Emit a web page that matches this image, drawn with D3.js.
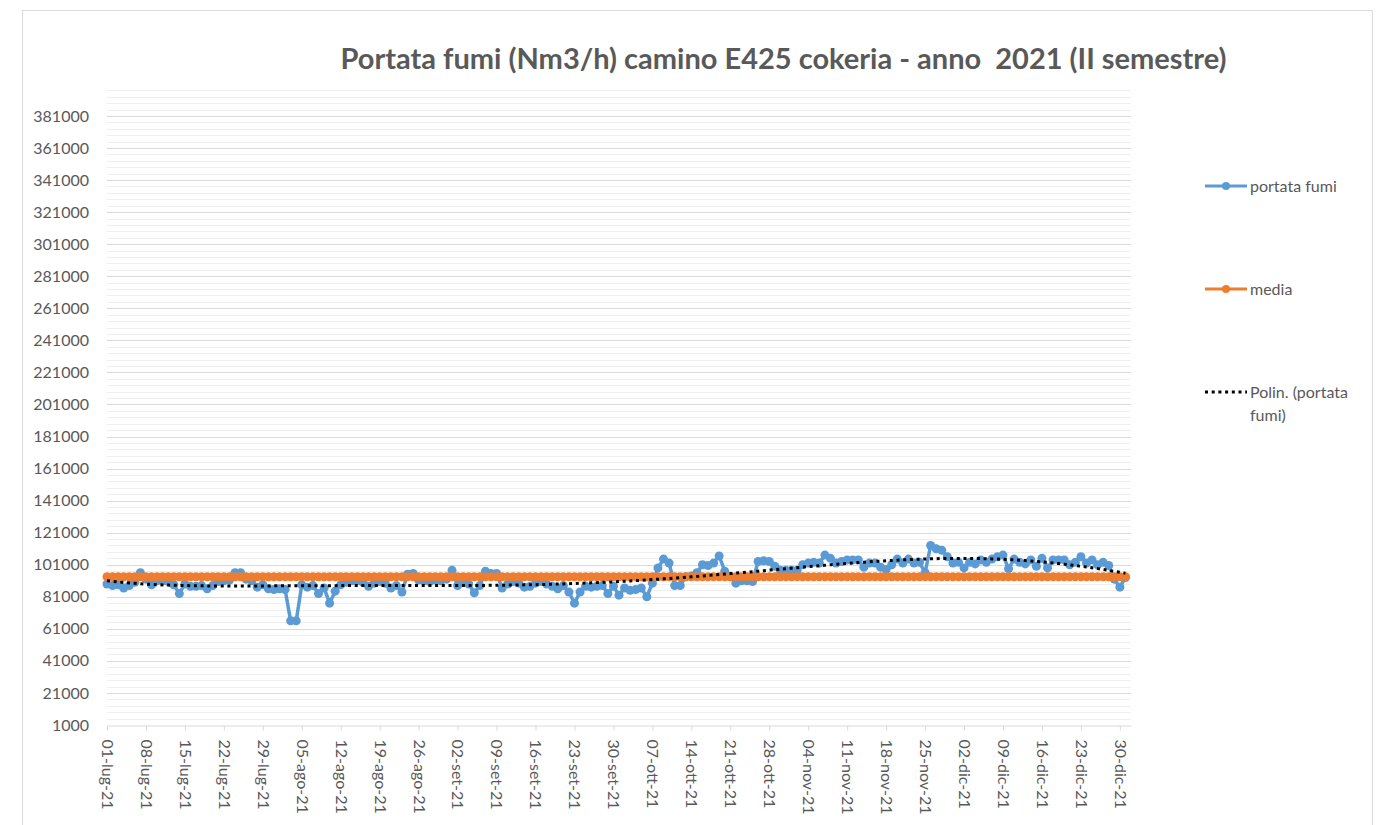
<!DOCTYPE html>
<html lang="it">
<head>
<meta charset="UTF-8">
<title>Portata fumi camino E425</title>
<style>
  body { margin: 0; background: #fff; }
  text { font-family: Lato, "Open Sans", sans-serif; fill: #595959; }
</style>
</head>
<body>
<script src="https://cdn.jsdelivr.net/npm/d3@7/dist/d3.min.js"></script>
<script>
// valori giornalieri (Nm3/h)
const luglio = [89000, 88000, 88500, 86500, 88000, 90000, 96000, 92000, 88500, 91000, 91000, 90500, 88500, 83000, 89000, 87500,
  87500, 88000, 86000, 88000, 90500, 91000, 91500, 96000, 96000, 92000, 91000, 87000, 88500, 86000, 85500];
const agosto = [86000, 85500, 66000, 66000, 88500, 87000, 88000, 83000, 86500, 77000, 84500, 88500, 90000, 91000, 91000, 90000,
  87500, 89500, 90500, 89500, 86500, 88000, 84000, 95000, 95500, 91500, 91000, 90500, 91500, 91000, 92000];
const settembre = [97500, 88000, 90000, 89000, 83500, 88000, 97000, 95500, 95500, 86500, 89000, 90500, 89500, 87000, 87500,
  89500, 90500, 89000, 87500, 86000, 88000, 84000, 77000, 84000, 87500, 87000, 87500, 88000, 83000, 87500];
const ottobre = [82000, 86500, 85000, 85500, 86500, 81000, 89500, 99000, 104500, 102000, 88000, 88000, 93500, 94000, 96000,
  101000, 100500, 102000, 106500, 97000, 93500, 89500, 91000, 91000, 90500, 103000, 103500, 103000, 100000, 97500, 97500];
const novembre = [97500, 97500, 101000, 102000, 102500, 102000, 107000, 105000, 102000, 103000, 104000, 104000, 104000, 99500,
  102000, 102000, 99500, 98000, 101000, 104500, 102000, 104500, 102000, 102500, 96000, 113000, 111000, 110000, 106000, 102000];
const dicembre = [102500, 99000, 102500, 101500, 104000, 102500, 104500, 106000, 107000, 98500, 104500, 102500, 101500, 104000,
  100000, 105000, 99000, 104000, 104000, 104000, 101000, 102500, 106000, 102000, 104000, 101000, 102500, 100500, 92000, 87000, 93000];

const mediaValue = 93500;   // linea "media"
const trendOrder = 6;       // ordine della linea di tendenza polinomiale

const portata = [].concat(luglio, agosto, settembre, ottobre, novembre, dicembre);
const dates = d3.utcDay.range(new Date(Date.UTC(2021, 6, 1)), new Date(Date.UTC(2022, 0, 1)));
const media = dates.map(() => mediaValue);

const yTicks = d3.range(1000, 381001, 20000);
const yMinor = d3.range(1000, 400000, 4000).filter(v => (v - 1000) % 20000 !== 0);
const xTicks = dates.filter((d, i) => i % 7 === 0);

const itLocale = d3.timeFormatLocale({
  dateTime: '%A %e %B %Y, %X', date: '%d/%m/%Y', time: '%H:%M:%S',
  periods: ['AM', 'PM'],
  days: ['domenica', 'lunedì', 'martedì', 'mercoledì', 'giovedì', 'venerdì', 'sabato'],
  shortDays: ['dom', 'lun', 'mar', 'mer', 'gio', 'ven', 'sab'],
  months: ['gennaio', 'febbraio', 'marzo', 'aprile', 'maggio', 'giugno', 'luglio', 'agosto', 'settembre', 'ottobre', 'novembre', 'dicembre'],
  shortMonths: ['gen', 'feb', 'mar', 'apr', 'mag', 'giu', 'lug', 'ago', 'set', 'ott', 'nov', 'dic']
});
const fmtDate = itLocale.utcFormat('%d-%b-%y');

const width = 1393, height = 825;
const plot = { left: 107, right: 1131, top: 85.5, bottom: 725 };

const svg = d3.select('body').append('svg')
  .attr('width', width)
  .attr('height', height);

// bordo del grafico
svg.append('rect')
  .attr('x', 22.5).attr('y', 10.5)
  .attr('width', 1350).attr('height', 840)
  .attr('fill', 'none').attr('stroke', '#d9d9d9');

const x = d3.scaleUtc()
  .domain([dates[0], new Date(Date.UTC(2022, 0, 1))])
  .range([plot.left, plot.right]);
const y = d3.scaleLinear()
  .domain([1000, 400000])
  .range([plot.bottom, plot.top]);

// griglia secondaria e principale
svg.append('g').selectAll('line').data(yMinor).enter().append('line')
  .attr('x1', plot.left).attr('x2', plot.right)
  .attr('y1', d => Math.round(y(d)) + 0.5).attr('y2', d => Math.round(y(d)) + 0.5)
  .attr('stroke', '#efefef');
svg.append('g').selectAll('line').data(yTicks.slice(1)).enter().append('line')
  .attr('x1', plot.left).attr('x2', plot.right)
  .attr('y1', d => Math.round(y(d)) + 0.5).attr('y2', d => Math.round(y(d)) + 0.5)
  .attr('stroke', '#d9d9d9');

// asse Y (solo etichette)
svg.append('g').selectAll('text').data(yTicks).enter().append('text')
  .attr('x', 89).attr('y', d => y(d))
  .attr('dy', '0.35em')
  .attr('text-anchor', 'end')
  .style('font-size', '16px')
  .text(d => d);

// asse X
const xAxis = svg.append('g')
  .attr('transform', 'translate(0,' + (plot.bottom + 0.5) + ')')
  .call(d3.axisBottom(x).tickValues(xTicks).tickFormat(fmtDate).tickSize(5).tickSizeOuter(0));
xAxis.select('.domain').attr('stroke', '#d9d9d9');
xAxis.selectAll('.tick line').attr('stroke', '#d9d9d9');
xAxis.selectAll('.tick text')
  .attr('transform', 'rotate(90)')
  .attr('x', 14).attr('y', 0)
  .attr('dy', '0.35em')
  .attr('text-anchor', 'start')
  .style('font-size', '16px')
  .style('font-family', 'Lato, sans-serif')
  .attr('fill', '#595959');

const line = d3.line().x((d, i) => x(dates[i])).y(d => y(d));

// serie portata fumi
svg.append('path').datum(portata)
  .attr('d', line).attr('fill', 'none')
  .attr('stroke', '#5b9bd5').attr('stroke-width', 3.5).attr('stroke-linejoin', 'round');
svg.append('g').selectAll('circle').data(portata).enter().append('circle')
  .attr('cx', (d, i) => x(dates[i])).attr('cy', d => y(d)).attr('r', 4.5)
  .attr('fill', '#5b9bd5');

// serie media
svg.append('path').datum(media)
  .attr('d', line).attr('fill', 'none')
  .attr('stroke', '#ed7d31').attr('stroke-width', 3.5);
svg.append('g').selectAll('circle').data(media).enter().append('circle')
  .attr('cx', (d, i) => x(dates[i])).attr('cy', d => y(d)).attr('r', 4.5)
  .attr('fill', '#ed7d31');

// linea di tendenza polinomiale (minimi quadrati)
function polyFit(xs, ys, order) {
  const n = order + 1;
  const A = d3.range(n).map(() => new Array(n + 1).fill(0));
  xs.forEach((xv, k) => {
    const p = d3.range(n).map(j => Math.pow(xv, j));
    for (let r = 0; r < n; r++) {
      for (let c = 0; c < n; c++) A[r][c] += p[r] * p[c];
      A[r][n] += p[r] * ys[k];
    }
  });
  for (let c = 0; c < n; c++) {
    let piv = c;
    for (let r = c + 1; r < n; r++) if (Math.abs(A[r][c]) > Math.abs(A[piv][c])) piv = r;
    [A[c], A[piv]] = [A[piv], A[c]];
    for (let r = 0; r < n; r++) {
      if (r === c) continue;
      const f = A[r][c] / A[c][c];
      for (let k = c; k <= n; k++) A[r][k] -= f * A[c][k];
    }
  }
  return d3.range(n).map(j => A[j][n] / A[j][j]);
}
const tNorm = portata.map((d, i) => i / (portata.length - 1) * 2 - 1);
const coef = polyFit(tNorm, portata, trendOrder);
const trend = tNorm.map(t => coef.reduce((s, c, j) => s + c * Math.pow(t, j), 0));

svg.append('path').datum(trend)
  .attr('d', line).attr('fill', 'none')
  .attr('stroke', '#000').attr('stroke-width', 3)
  .attr('stroke-dasharray', '3 3.7');

// titolo
svg.append('text')
  .attr('x', 783.5).attr('y', 69)
  .attr('text-anchor', 'middle')
  .attr('xml:space', 'preserve')
  .style('font-size', '29px').style('font-weight', 'bold')
  .text('Portata fumi (Nm3/h) camino E425 cokeria - anno  2021 (II semestre)');

// legenda
const legend = svg.append('g');
const legendItems = [
  { label: ['portata fumi'], color: '#5b9bd5', y: 186, marker: true },
  { label: ['media'], color: '#ed7d31', y: 289, marker: true },
  { label: ['Polin. (portata', 'fumi)'], color: '#000', y: 392, marker: false }
];
legendItems.forEach(it => {
  const l = legend.append('line')
    .attr('x1', 1205).attr('x2', 1247).attr('y1', it.y).attr('y2', it.y)
    .attr('stroke', it.color).attr('stroke-width', 3);
  if (it.marker) {
    legend.append('circle').attr('cx', 1226).attr('cy', it.y).attr('r', 4).attr('fill', it.color);
  } else {
    l.attr('stroke-dasharray', '3 3.7');
  }
  it.label.forEach((t, k) => {
    legend.append('text')
      .attr('x', 1250).attr('y', it.y + k * 23)
      .attr('dy', '0.35em')
      .style('font-size', '16px')
      .text(t);
  });
});
</script>
</body>
</html>
